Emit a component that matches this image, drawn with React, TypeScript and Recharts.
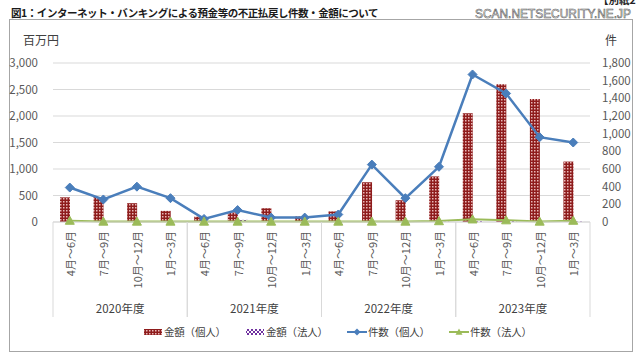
import React from "react";
import { ComposedChart, Bar, Line, XAxis, YAxis, CartesianGrid } from "recharts";

const quarterLabels = ["4月～6月", "7月～9月", "10月～12月", "1月～3月"];
const fiscalYears = ["2020年度", "2021年度", "2022年度", "2023年度"];
const amountIndividual = [465, 470, 355, 210, 100, 180, 260, 105, 200, 750, 410, 860, 2050, 2600, 2320, 1140];
const amountCorporate = [3, 4, 2, 2, 3, 40, 8, 3, 2, 4, 3, 6, 15, 20, 4, 8];
const countIndividual = [390, 255, 400, 270, 35, 135, 50, 50, 85, 650, 270, 625, 1670, 1455, 960, 900];
const countCorporate = [15, 5, 5, 5, 5, 5, 5, 5, 5, 5, 5, 10, 30, 20, 5, 15];
const leftTicks = [0, 500, 1000, 1500, 2000, 2500, 3000];
const rightTicks = [0, 200, 400, 600, 800, 1000, 1200, 1400, 1600, 1800];

const data = fiscalYears.flatMap((fy, yi) =>
  quarterLabels.map((q, qi) => {
    const i = yi * 4 + qi;
    return {
      id: `${fy}-${q}`,
      quarter: q,
      year: fy,
      qi,
      amountIndividual: amountIndividual[i],
      amountCorporate: amountCorporate[i],
      countIndividual: countIndividual[i],
      countCorporate: countCorporate[i],
    };
  })
);

const W = 640;
const H = 361;
const LEFT_W = 53;
const RIGHT_W = 50;
const TOP = 63;
const XAXIS_H = 139;
const PLOT_W = W - LEFT_W - RIGHT_W;
const BAND = PLOT_W / data.length;
const FONT = "'Noto Sans CJK JP', 'Noto Sans', sans-serif";
const TICK_COLOR = "#595959";
const GRID = "#D9D9D9";
const BLUE = "#4A7EBB";
const GREEN = "#9BBB59";
const RED = "#8E1C1C";
const PURPLE = "#7030A0";

const QuarterTick = (props: any) => {
  const { x, y, payload } = props;
  const d = data.find((e) => e.id === payload.value);
  if (!d) return null;
  const ty = y + 9;
  const sepBottom = y + 95;
  return (
    <g>
      <text
        x={x}
        y={ty}
        transform={`rotate(-90 ${x} ${ty})`}
        textAnchor="end"
        dominantBaseline="central"
        fontSize={11}
        fill={TICK_COLOR}
        fontFamily={FONT}
      >
        {d.quarter}
      </text>
      {d.qi === 0 && (
        <>
          <line x1={x - BAND / 2} x2={x - BAND / 2} y1={y} y2={sepBottom} stroke={GRID} />
          <text
            x={x + 1.5 * BAND}
            y={y + 86}
            textAnchor="middle"
            dominantBaseline="central"
            fontSize={11.5}
            fill="#404040"
            fontFamily={FONT}
          >
            {d.year}
          </text>
        </>
      )}
      {d.qi === 3 && <line x1={x + BAND / 2} x2={x + BAND / 2} y1={y} y2={sepBottom} stroke={GRID} />}
    </g>
  );
};

const Diamond = (props: any) => {
  const { cx, cy, key } = props;
  if (cx == null || cy == null) return <g key={key} />;
  const r = 4.5;
  return (
    <polygon
      key={key}
      points={`${cx},${cy - r} ${cx + r},${cy} ${cx},${cy + r} ${cx - r},${cy}`}
      fill={BLUE}
      stroke={BLUE}
    />
  );
};

const Triangle = (props: any) => {
  const { cx, cy, key } = props;
  if (cx == null || cy == null) return <g key={key} />;
  const r = 4.5;
  return (
    <polygon
      key={key}
      points={`${cx},${cy - r} ${cx + r},${cy + r * 0.8} ${cx - r},${cy + r * 0.8}`}
      fill={GREEN}
      stroke={GREEN}
    />
  );
};

const Patterns = ({ suffix }: { suffix: string }) => (
  <defs>
    <pattern id={`red${suffix}`} width={3} height={3} patternUnits="userSpaceOnUse">
      <rect width={3} height={3} fill={RED} />
      <rect width={1.5} height={1.5} fill="#E8B8B8" />
    </pattern>
    <pattern id={`purple${suffix}`} width={4} height={4} patternUnits="userSpaceOnUse">
      <rect width={4} height={4} fill="#FFFFFF" />
      <rect width={2} height={2} fill={PURPLE} />
      <rect x={2} y={2} width={2} height={2} fill={PURPLE} />
    </pattern>
  </defs>
);

const legendItems = [
  { label: "金額（個人）", kind: "red" },
  { label: "金額（法人）", kind: "purple" },
  { label: "件数（個人）", kind: "blue" },
  { label: "件数（法人）", kind: "green" },
];

const LegendSwatch = ({ kind }: { kind: string }) => (
  <svg width={20} height={10} style={{ display: "block" }}>
    <Patterns suffix={`L${kind}`} />
    {kind === "red" && <rect x={1} y={2} width={18} height={6} fill={`url(#redL${kind})`} />}
    {kind === "purple" && <rect x={1} y={2} width={18} height={6} fill={`url(#purpleL${kind})`} />}
    {kind === "blue" && (
      <>
        <line x1={0} x2={20} y1={5} y2={5} stroke={BLUE} strokeWidth={2} />
        <polygon points="10,1.5 13.5,5 10,8.5 6.5,5" fill={BLUE} />
      </>
    )}
    {kind === "green" && (
      <>
        <line x1={0} x2={20} y1={5} y2={5} stroke={GREEN} strokeWidth={2} />
        <polygon points="10,1.5 13.5,7.8 6.5,7.8" fill={GREEN} />
      </>
    )}
  </svg>
);

export default function App() {
  return (
    <div
      style={{
        position: "absolute",
        left: 0,
        top: 0,
        width: W,
        height: H,
        background: "#fff",
        fontFamily: FONT,
        overflow: "hidden",
      }}
    >
      <div
        style={{
          position: "absolute",
          left: 9,
          top: 19,
          width: 624,
          height: 333,
          border: "1px solid #A6A6A6",
          boxSizing: "border-box",
        }}
      />
      <div
        style={{
          position: "absolute",
          left: 11,
          top: 4,
          fontSize: 10.5,
          fontWeight: 700,
          color: "#1a1a1a",
          lineHeight: "17px",
          whiteSpace: "nowrap",
          letterSpacing: "-0.45px",
        }}
      >
        図1：インターネット・バンキングによる預金等の不正払戻し件数・金額について
      </div>
      <svg width={W} height={30} style={{ position: "absolute", left: 0, top: 0 }}>
        <text
          x={475}
          y={18}
          textLength={156}
          lengthAdjust="spacingAndGlyphs"
          fontSize={12}
          fontFamily="'Liberation Sans', sans-serif"
          fill="#fff"
          stroke="#555"
          strokeWidth={0.55}
        >
          SCAN.NETSECURITY.NE.JP
        </text>
        <text x={598} y={4} fontSize={10.5} fontWeight={700} fill="#222" fontFamily={FONT}>
          【別紙2
        </text>
      </svg>
      <div style={{ position: "absolute", left: 23, top: 32, fontSize: 12, color: "#404040", lineHeight: "16px" }}>
        百万円
      </div>
      <div style={{ position: "absolute", left: 605, top: 32, fontSize: 12, color: "#404040", lineHeight: "16px" }}>
        件
      </div>
      <div style={{ position: "absolute", left: 0, top: 0 }}>
        <ComposedChart
          width={W}
          height={H}
          data={data}
          margin={{ top: TOP, right: 0, bottom: 0, left: 0 }}
          barGap={0}
          barCategoryGap={0}
        >
          <Patterns suffix="C" />
          <CartesianGrid yAxisId="left" vertical={false} stroke={GRID} horizontal={true} />
          <XAxis
            dataKey="id"
            height={XAXIS_H}
            interval={0}
            tick={<QuarterTick />}
            tickLine={false}
            tickSize={0}
            tickMargin={0}
            axisLine={{ stroke: GRID }}
          />
          <YAxis
            yAxisId="left"
            orientation="left"
            width={LEFT_W}
            domain={[0, 3000]}
            ticks={leftTicks}
            tickFormatter={(v: number) => v.toLocaleString("en-US")}
            axisLine={false}
            tickLine={false}
            tickSize={0}
            tickMargin={15}
            tick={{ fontSize: 11.5, fill: TICK_COLOR, fontFamily: FONT }}
          />
          <YAxis
            yAxisId="right"
            orientation="right"
            width={RIGHT_W}
            domain={[0, 1800]}
            ticks={rightTicks}
            tickFormatter={(v: number) => v.toLocaleString("en-US")}
            axisLine={false}
            tickLine={false}
            tickSize={0}
            tickMargin={12}
            tick={{ fontSize: 11.5, fill: TICK_COLOR, fontFamily: FONT }}
          />
          <Bar
            yAxisId="left"
            dataKey="amountIndividual"
            barSize={10}
            fill="url(#redC)"
            isAnimationActive={false}
          />
          <Bar
            yAxisId="left"
            dataKey="amountCorporate"
            barSize={10}
            fill="url(#purpleC)"
            isAnimationActive={false}
          />
          <Line
            yAxisId="right"
            dataKey="countIndividual"
            stroke={BLUE}
            strokeWidth={2.5}
            dot={Diamond}
            activeDot={false}
            isAnimationActive={false}
          />
          <Line
            yAxisId="right"
            dataKey="countCorporate"
            stroke={GREEN}
            strokeWidth={2}
            dot={Triangle}
            activeDot={false}
            isAnimationActive={false}
          />
        </ComposedChart>
      </div>
      <div
        style={{
          position: "absolute",
          left: 143,
          top: 324,
          display: "flex",
          alignItems: "center",
          fontSize: 10.5,
          color: "#404040",
          lineHeight: "16px",
          whiteSpace: "nowrap",
        }}
      >
        {legendItems.map((it) => (
          <div key={it.label} style={{ display: "flex", alignItems: "center", width: 102 }}>
            <LegendSwatch kind={it.kind} />
            <span style={{ marginLeft: 1, letterSpacing: "-0.2px" }}>{it.label}</span>
          </div>
        ))}
      </div>
    </div>
  );
}
